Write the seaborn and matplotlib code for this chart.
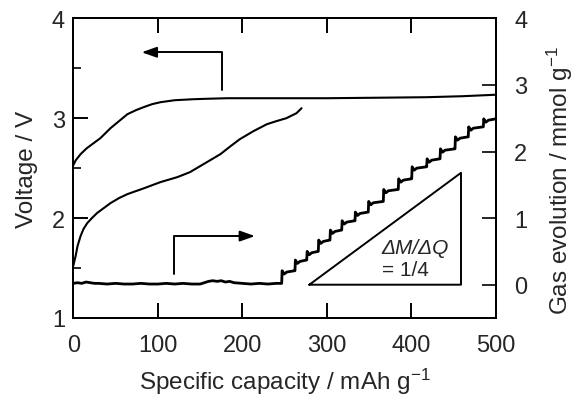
import matplotlib
matplotlib.use("Agg")
import matplotlib.pyplot as plt
import seaborn as sns
import pandas as pd
from matplotlib.ticker import MultipleLocator

# ---------------- data ----------------
# charge curve (upper voltage curve)
cap_charge = [0, 3, 8.6, 16, 24, 32, 44, 54, 64, 74, 83, 93, 103, 120, 142, 160,
              182, 240, 300, 360, 417, 460, 500]
v_charge = [2.53, 2.58, 2.64, 2.70, 2.75, 2.80, 2.90, 2.97, 3.04, 3.08, 3.11, 3.14,
            3.16, 3.18, 3.19, 3.195, 3.20, 3.20, 3.20, 3.205, 3.21, 3.22, 3.235]

# lower voltage curve
cap_low = [0, 1, 2.75, 5, 8.6, 12, 16.5, 22, 28, 36, 44, 54, 64, 84, 103, 123, 138,
           150, 162, 174, 186, 197, 213, 229, 240, 252, 264, 270]
v_low = [1.52, 1.56, 1.62, 1.72, 1.82, 1.89, 1.95, 2.00, 2.05, 2.10, 2.15, 2.20,
         2.24, 2.30, 2.36, 2.41, 2.46, 2.52, 2.58, 2.64, 2.72, 2.79, 2.87, 2.94,
         2.97, 3.00, 3.05, 3.10]

# gas evolution: flat baseline before onset
gas_base_cap = [0, 5, 10, 15, 20, 25, 30, 40, 50, 60, 70, 80, 90, 100, 110, 120,
                130, 140, 150, 155, 160, 165, 170, 175, 180, 185, 190, 200, 210,
                220, 230, 240, 246]
gas_base = [0.02, 0.03, 0.02, 0.04, 0.03, 0.02, 0.02, 0.01, 0.02, 0.01, 0.01, 0.02,
            0.01, 0.01, 0.02, 0.01, 0.02, 0.01, 0.01, 0.03, 0.05, 0.06, 0.05, 0.06,
            0.04, 0.05, 0.03, 0.02, 0.01, 0.02, 0.01, 0.02, 0.02]

# gas evolution: staircase (capacity of each step, level after step)
step_cap = [246.5, 262.2, 276.1, 289.8, 303.6, 317.5, 333.2, 348.9, 366.7, 384.4,
            400.3, 418.0, 433.8, 451.5, 467.2, 485.0]
step_gas = [0.18, 0.34, 0.47, 0.64, 0.79, 0.93, 1.06, 1.22, 1.40, 1.56, 1.74, 1.86,
            2.01, 2.19, 2.34, 2.46]
gas_end_cap = 500

# annotations
x_ticks = [0, 100, 200, 300, 400, 500]
slope_label = ["ΔM/ΔQ", "= 1/4"]

# ---------------- build gas trace ----------------
gx = list(gas_base_cap)
gy = list(gas_base)
prev = gas_base[-1]
for i, (sx, lv) in enumerate(zip(step_cap, step_gas)):
    nx = step_cap[i + 1] if i + 1 < len(step_cap) else gas_end_cap
    gx += [sx, sx + 0.5, sx + 3.0, sx + 6.0, nx - 0.3]
    gy += [prev, lv + 0.03, lv - 0.02, lv + 0.01, lv + 0.03]
    prev = lv + 0.03
df_gas = pd.DataFrame({"cap": gx, "gas": gy})
df_c = pd.DataFrame({"cap": cap_charge, "v": v_charge})
df_l = pd.DataFrame({"cap": cap_low, "v": v_low})

# ---------------- style ----------------
sns.set_style("ticks")
plt.rcParams["font.family"] = ["Liberation Sans", "DejaVu Sans"]
plt.rcParams["mathtext.fontset"] = "custom"
plt.rcParams["mathtext.rm"] = "Liberation Sans"
plt.rcParams["mathtext.it"] = "Liberation Sans:italic"
plt.rcParams["axes.linewidth"] = 1.4

W, H = 577, 402
fig = plt.figure(figsize=(W / 100, H / 100), dpi=100)
L, R, T, B = 73.3, 496.0, 19.3, 319.0
ax = fig.add_axes([L / W, 1 - B / H, (R - L) / W, (B - T) / H])

sns.lineplot(data=df_c, x="cap", y="v", ax=ax, color="black", lw=1.5,
             sort=False, estimator=None)
sns.lineplot(data=df_l, x="cap", y="v", ax=ax, color="black", lw=1.5,
             sort=False, estimator=None)

ax.set_xlim(0, 500)
ax.set_ylim(1, 4)
ax.set_xticks(x_ticks)
ax.yaxis.set_major_locator(MultipleLocator(1))
ax.yaxis.set_minor_locator(MultipleLocator(0.5))
ax.tick_params(axis="both", which="major", direction="in", length=10.8,
               width=1.4, labelsize=17, color="black")
ax.tick_params(axis="x", top=True, bottom=True, pad=11.5)
ax.tick_params(axis="y", which="major", pad=6)
ax.tick_params(axis="y", which="minor", direction="in", length=5.8, width=1.4,
               left=True, right=False)
ax.tick_params(axis="x", which="minor", bottom=False, top=False)

ax.set_xlabel("Specific capacity / mAh g$^{-1}$", fontsize=17.5)
ax.xaxis.set_label_coords(0.5, -0.158)
ax.set_ylabel("Voltage / V", fontsize=17.5)
ax.yaxis.set_label_coords(-0.0835, 0.5)

# upper arrow (points to voltage axis)
ax.plot([176.2, 176.2, 92], [3.285, 3.66, 3.66], color="black", lw=1.4)
ax.annotate("", xy=(80.9, 3.66), xytext=(95, 3.66),
            arrowprops=dict(arrowstyle="-|>,head_length=0.9,head_width=0.32",
                            color="black", lw=1.4, shrinkA=0, shrinkB=0))

# gas axis
ax2 = ax.twinx()
sns.lineplot(data=df_gas, x="cap", y="gas", ax=ax2, color="black", lw=2.0,
             sort=False, estimator=None)
ax2.set_ylim(-0.5, 4)
ax2.set_xlim(0, 500)
ax2.yaxis.set_major_locator(MultipleLocator(1))
ax2.tick_params(axis="y", which="major", direction="in", length=10.2, width=1.4,
                labelsize=17, pad=13)
ax2.set_ylabel("Gas evolution / mmol g$^{-1}$", fontsize=17.5)
ax2.yaxis.set_label_coords(1.115, 0.462)

# lower arrow (points to gas axis)
ax2.plot([119.1, 119.1, 200], [0.16, 0.73, 0.73], color="black", lw=1.4)
ax2.annotate("", xy=(214.9, 0.73), xytext=(195, 0.73),
             arrowprops=dict(arrowstyle="-|>,head_length=0.9,head_width=0.32",
                             color="black", lw=1.4, shrinkA=0, shrinkB=0))

# slope triangle
ax2.plot([279.2, 458.6, 458.6, 279.2], [0, 0, 1.68, 0], color="black", lw=1.4)
ax2.text(404.3, 0.56, slope_label[0], fontsize=15, style="italic",
         ha="center", va="center")
ax2.text(392.4, 0.225, slope_label[1], fontsize=15, ha="center", va="center")

for a in (ax, ax2):
    for s in a.spines.values():
        s.set_visible(True)
        s.set_linewidth(1.4)
        s.set_color("black")

fig.savefig("out.png", dpi=100)
